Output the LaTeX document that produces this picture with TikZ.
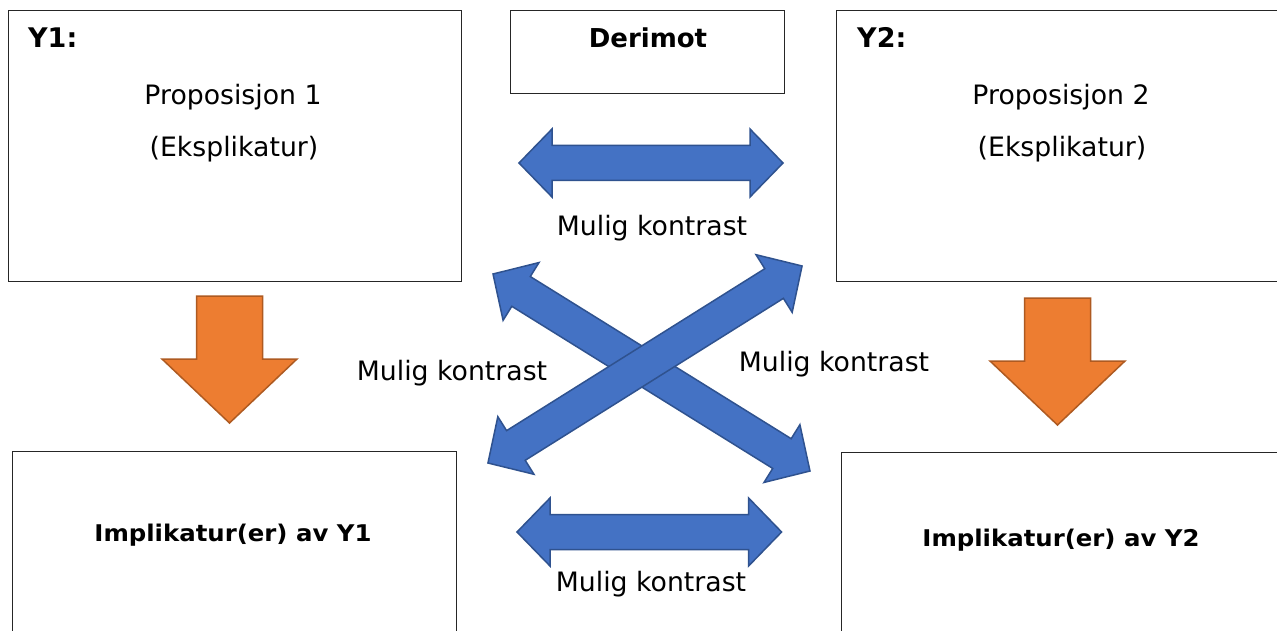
\documentclass[tikz,border=0pt]{standalone}
\usepackage{fontspec}
\setmainfont{DejaVu Sans}
\newfontfamily\widefont{DejaVu Sans}[FakeStretch=1.06]
\definecolor{arrowblue}{HTML}{4472C4}
\definecolor{arrowblueedge}{HTML}{2F528F}
\definecolor{arroworange}{HTML}{ED7D31}
\definecolor{arroworangeedge}{HTML}{AE5A21}
\tikzset{
  box/.style={draw=black!85, line width=1pt, fill=white, rectangle,
              anchor=north west, inner sep=0pt, outer sep=0pt},
  plain/.style={font=\fontsize{26.7}{32}\selectfont, anchor=base, inner sep=0pt},
  tag/.style={font=\fontsize{27}{32}\selectfont\bfseries, anchor=base west, inner sep=0pt},
  boldtext/.style={font=\fontsize{26}{31}\selectfont\bfseries, anchor=base, inner sep=0pt},
  impltext/.style={font=\widefont\fontsize{23}{28}\selectfont\bfseries, anchor=base, inner sep=0pt},
  bluearrow/.style={fill=arrowblue, draw=arrowblueedge, line width=1.5pt, line join=miter},
  orangearrow/.style={fill=arroworange, draw=arroworangeedge, line width=1.5pt, line join=miter},
  % double-headed block arrow, #1 = half length
  pics/dblarrow/.style={code={
    \draw[bluearrow] (-#1,0) -- (-#1+33,-34) -- (-#1+33,-17.5) -- (#1-33,-17.5)
      -- (#1-33,-34) -- (#1,0) -- (#1-33,34) -- (#1-33,17.5) -- (-#1+33,17.5)
      -- (-#1+33,34) -- cycle;
  }},
  % downward block arrow, origin at the middle of its top edge
  pics/downarrow/.style={code={
    \draw[orangearrow] (-33,0) -- (33,0) -- (33,63) -- (67.5,63) -- (0,127)
      -- (-67.5,63) -- (-33,63) -- cycle;
  }}
}
\begin{document}
\begin{tikzpicture}[x=1pt,y=-1pt]
\clip (0,0) rectangle (1277,631);
\fill[white] (0,0) rectangle (1277,631);

% boxes
\node[box, minimum width=453, minimum height=270] (y1box) at (8,11) {};
\node[box, minimum width=274, minimum height=83] (derimotbox) at (510,11) {};
\node[box, minimum width=470, minimum height=270] (y2box) at (836,11) {};
\node[box, minimum width=444, minimum height=250] (impl1box) at (12,451) {};
\node[box, minimum width=470, minimum height=250] (impl2box) at (841,452) {};

% box texts
\node[tag] (y1tag) at (28,48) {Y1:};
\node[plain] (prop1) at (233,105) {Proposisjon 1};
\node[plain] (eks1) at (234,157) {(Eksplikatur)};
\node[boldtext] (derimot) at (648,48) {Derimot};
\node[tag] (y2tag) at (857,48) {Y2:};
\node[plain] (prop2) at (1061,105) {Proposisjon 2};
\node[plain] (eks2) at (1062,157) {(Eksplikatur)};
\node[impltext] (impl1) at (233,541) {Implikatur(er) av Y1};
\node[impltext] (impl2) at (1061,546) {Implikatur(er) av Y2};

% orange arrows from propositions to implicatures
\pic at (229.5,296) {downarrow};
\pic at (1057.5,298) {downarrow};

% blue contrast arrows
\pic at (651,163) {dblarrow=132};
\pic at (649.3,532) {dblarrow=132.3};
\pic[rotate=-31.86] at (651.5,372.5) {dblarrow=186.6};
\pic[rotate=32.1] at (645,364.5) {dblarrow=185.4};

% contrast labels
\node[plain] (mk1) at (652,236) {Mulig kontrast};
\node[plain] (mk2) at (452,380) {Mulig kontrast};
\node[plain] (mk3) at (834,371) {Mulig kontrast};
\node[plain] (mk4) at (651,591) {Mulig kontrast};
\end{tikzpicture}
\end{document}
